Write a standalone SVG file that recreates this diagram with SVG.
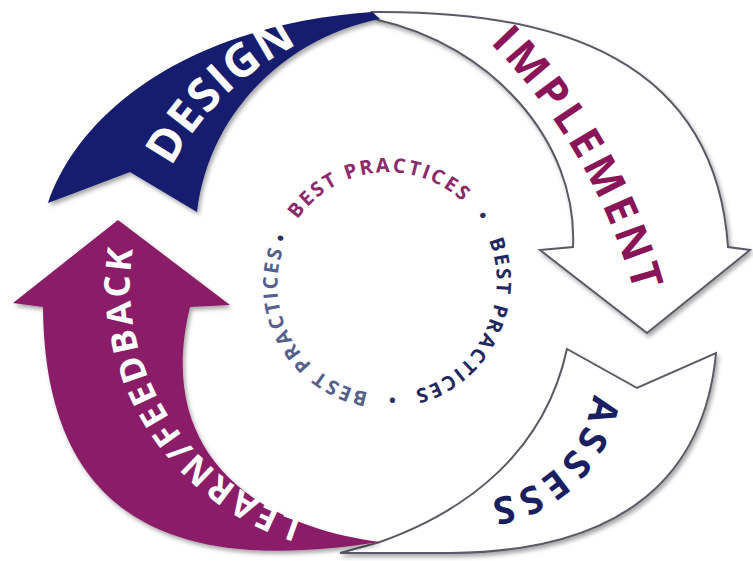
<svg xmlns="http://www.w3.org/2000/svg" width="753" height="561" viewBox="0 0 753 561">
  <defs>
    <filter id="shadow" x="-10%" y="-10%" width="120%" height="120%">
      <feDropShadow dx="2" dy="3" stdDeviation="2" flood-color="#000" flood-opacity="0.35"/>
    </filter>
    <path id="pDesign" d="M138.6,273.7 A290,290 0 0 1 406.8,14.7"/>
    <path id="pImplement" d="M452.7,8.8 A570,570 0 0 1 646.3,345.7"/>
    <path id="pAssess" d="M594,379 A121,121 0 0 1 470.9,500"/>
    <path id="pLearn" d="M332.5,525.3 A244,244 0 0 1 140.2,216"/>
    <path id="pRing" d="M284.6,245.7 A109,109 0 1 1 489.4,320.3 A109,109 0 1 1 284.6,245.7"/>
  </defs>
  <style>
    .lbl { font-family: "Open Sans", "Liberation Sans", sans-serif; font-weight: 700; }
    .white-arrow { fill: #ffffff; stroke: #5a5a66; stroke-width: 2; stroke-linejoin: miter; }
    .ring { font-family: "Open Sans", "Liberation Sans", sans-serif; font-weight: 700; font-size: 20px; letter-spacing: 2.3px; }
    .dot { font-size: 18px; fill: #2a2f5e; }
  </style>
  <rect width="753" height="561" fill="#ffffff"/>

  <g id="connectors">
    <g id="implement" filter="url(#shadow)">
      <path class="white-arrow" d="M372,12 C560,10 715,60 728,247 L750,250 L647,333 L540,250 L573,247 C578,140 490,45 378,20 Z"/>
    </g>
    <g id="design" filter="url(#shadow)">
      <path fill="#161a6e" d="M48,203 C80,110 190,25 372,12 L380,19 C295,35 210,105 197,212 L130,172 Z"/>
    </g>
    <g id="assess" filter="url(#shadow)">
      <path class="white-arrow" d="M567,349 L637,388 L716,353 C705,470 630,552 450,553 L340,553 L380,542 C470,510 545,450 567,349 Z"/>
    </g>
    <g id="learn" filter="url(#shadow)">
      <path fill="#8b1a68" d="M118,220 L230,305 L190,307 C155,450 250,525 380,542 C230,565 45,560 43,307 L13,303 Z"/>
    </g>
  </g>

  <g id="label-design">
    <text class="lbl" font-size="46" letter-spacing="1.5" fill="#ffffff"><textPath href="#pDesign" startOffset="50%" text-anchor="middle">DESIGN</textPath></text>
  </g>
  <g id="label-implement">
    <text class="lbl" font-size="43" letter-spacing="4.5" fill="#8a1458"><textPath href="#pImplement" startOffset="50%" text-anchor="middle">IMPLEMENT</textPath></text>
  </g>
  <g id="label-assess">
    <text class="lbl" font-size="38" letter-spacing="5" fill="#1a1f62"><textPath href="#pAssess" startOffset="50%" text-anchor="middle">ASSESS</textPath></text>
  </g>
  <g id="label-learn">
    <text class="lbl" font-size="35" letter-spacing="3" fill="#ffffff"><textPath href="#pLearn" startOffset="50%" text-anchor="middle">LEARN/FEEDBACK</textPath></text>
  </g>

  <g id="best-practices">
    <text class="ring"><textPath href="#pRing" startOffset="2.1"><tspan class="dot">•</tspan><tspan dx="17.9" fill="#8c2a6a">BEST PRACTICES</tspan><tspan class="dot" dx="17.4">•</tspan><tspan dx="18.3" fill="#23285e">BEST PRACTICES</tspan><tspan class="dot" dx="17.5">•</tspan><tspan dx="18.2" fill="#55608c">BEST PRACTICES</tspan></textPath></text>
  </g>
</svg>
